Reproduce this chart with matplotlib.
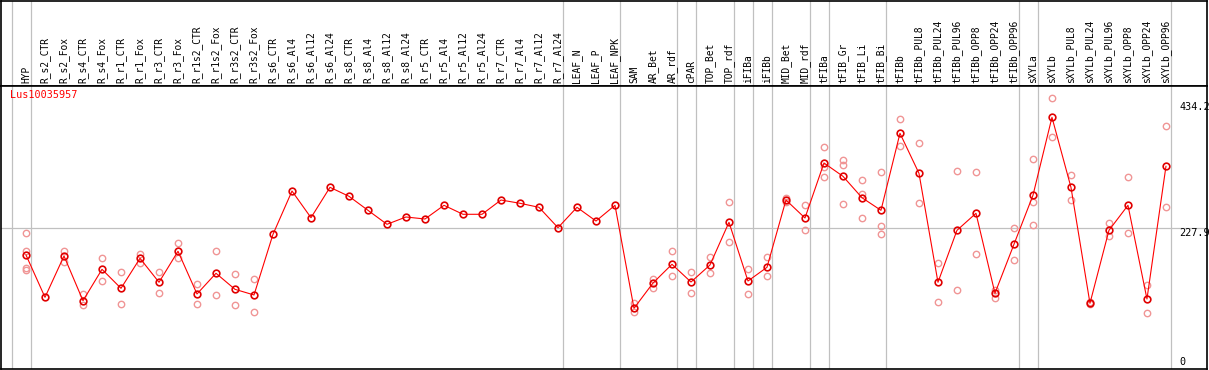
import matplotlib.pyplot as plt

# samples (x axis)
labels = ["HYP", "R_s2_CTR", "R_s2_Fox", "R_s4_CTR", "R_s4_Fox", "R_r1_CTR", "R_r1_Fox",
          "R_r3_CTR", "R_r3_Fox", "R_r1s2_CTR", "R_r1s2_Fox", "R_r3s2_CTR", "R_r3s2_Fox",
          "R_s6_CTR", "R_s6_Al4", "R_s6_Al12", "R_s6_Al24", "R_s8_CTR", "R_s8_Al4",
          "R_s8_Al12", "R_s8_Al24", "R_r5_CTR", "R_r5_Al4", "R_r5_Al12", "R_r5_Al24",
          "R_r7_CTR", "R_r7_Al4", "R_r7_Al12", "R_r7_Al24", "LEAF_N", "LEAF_P", "LEAF_NPK",
          "SAM", "AR_Bet", "AR_rdf", "cPAR", "TOP_Bet", "TOP_rdf", "iFIBa", "iFIBb",
          "MID_Bet", "MID_rdf", "tFIBa", "tFIB_Gr", "tFIB_Li", "tFIB_Bi", "tFIBb",
          "tFIBb_PUL8", "tFIBb_PUL24", "tFIBb_PUL96", "tFIBb_OPP8", "tFIBb_OPP24",
          "tFIBb_OPP96", "sXYLa", "sXYLb", "sXYLb_PUL8", "sXYLb_PUL24", "sXYLb_PUL96",
          "sXYLb_OPP8", "sXYLb_OPP24", "sXYLb_OPP96"]

# mean expression per sample
means = [184.3, 117.0, 182.7, 111.6, 161.5, 131.3, 179.0, 140.9, 190.2, 122.3, 155.2,
         129.7, 120.7, 217.2, 286.0, 243.6, 291.9, 277.6, 255.3, 233.1, 244.7, 241.5,
         263.3, 249.0, 249.0, 271.7, 266.5, 260.1, 227.7, 260.1, 238.3, 263.3,
         99.5, 139.7, 169.5, 141.3, 168.4, 236.3, 142.9, 164.7, 271.7, 243.1,
         330.6, 309.4, 275.4, 255.3, 377.8, 314.2, 140.9, 223.5, 250.6, 123.4, 201.3,
         279.2, 403.2, 291.9, 107.5, 223.5, 263.3, 114.3, 325.3]

# individual replicates per sample
replicates = [[218.8, 190.6, 164.0, 161.0], [], [190.6, 173.6], [122.3, 104.3],
              [179.0, 142.5], [156.8, 105.9], [185.9, 172.0], [157.7, 123.4],
              [202.9, 179.0], [138.2, 105.9], [190.2, 120.7], [153.6, 104.8],
              [146.6, 93.2],
              [], [], [], [], [], [], [], [], [], [], [], [], [], [], [], [], [], [], [],
              [107.5, 94.1], [146.6, 132.3], [190.2, 150.4], [157.7, 123.4],
              [180.6, 155.2], [268.1, 204.5], [161.5, 121.8], [180.6, 150.4],
              [275.4, 268.1], [263.3, 223.5], [355.5, 323.7, 307.8],
              [335.3, 327.4, 264.9], [303.1, 280.8, 242.6], [315.8, 230.4, 218.1],
              [400.0, 357.6], [361.9, 266.5], [171.1, 109.1], [317.4, 128.1],
              [315.8, 185.9], [128.6, 116.4], [226.7, 175.8], [336.4, 269.0, 231.5],
              [434.2, 371.4], [311.0, 271.7], [109.1, 106.0], [235.6, 214.5],
              [307.8, 218.8], [136.1, 91.6], [389.4, 260.1]]

# first sample index of each tissue group (gray separators)
group_starts = [0, 1, 29, 32, 35, 36, 38, 39, 40, 42, 43, 46, 53, 54, 61]

gene = "Lus10035957"
y_max = 434.2
y_mid = 227.9
y_min = 0

mono = "DejaVu Sans Mono"
x = list(range(len(labels)))

fig = plt.figure(figsize=(12.09, 3.70), dpi=100)
W, H = 1209, 370
head = fig.add_axes([1 / W, (H - 86) / H, 1206 / W, 85 / H])
ax = fig.add_axes([1 / W, 1 / H, 1206 / W, 283 / H], sharex=head)

for a in (head, ax):
    a.set_xticks([])
    a.set_yticks([])
    for s in a.spines.values():
        s.set_color("black")
        s.set_linewidth(1.2)
    for g in group_starts:
        a.axvline(g - 0.74, color="#c0c0c0", lw=0.9, zorder=0)

head.set_ylim(0, 1)
for i, lab in enumerate(labels):
    head.text(i, 0.04, lab, rotation=90, ha="center", va="bottom",
              family=mono, fontsize=6.9, color="black")

ax.set_xlim(-1.316, 62.16)
ax.set_ylim(3, 453)
ax.axhline(y_mid, color="#c0c0c0", lw=0.9, zorder=0)

for i, reps in enumerate(replicates):
    if reps:
        ax.plot([i] * len(reps), reps, "o", ms=4.6, mfc="none", mec="#f09595",
                mew=1.0, zorder=2, linestyle="none")

ax.plot(x, means, color="red", lw=0.8, zorder=3)
ax.plot(x, means, "o", ms=4.8, mfc="none", mec="#e00000", mew=1.2, zorder=4)

ax.text(0.0075, 0.985, gene, transform=ax.transAxes, ha="left", va="top",
        family=mono, fontsize=7.3, color="red")

for v, dy in [(y_max, -9), (y_mid, -5), (y_min, 9)]:
    lab = "0" if v == 0 else f"{v:.1f}"
    ax.annotate(lab, xy=(0.9768, v), xycoords=("axes fraction", "data"),
                xytext=(0, dy), textcoords="offset pixels", ha="left", va="center",
                family=mono, fontsize=7.3, color="black", annotation_clip=False)

fig.savefig("out.png", dpi=100)
